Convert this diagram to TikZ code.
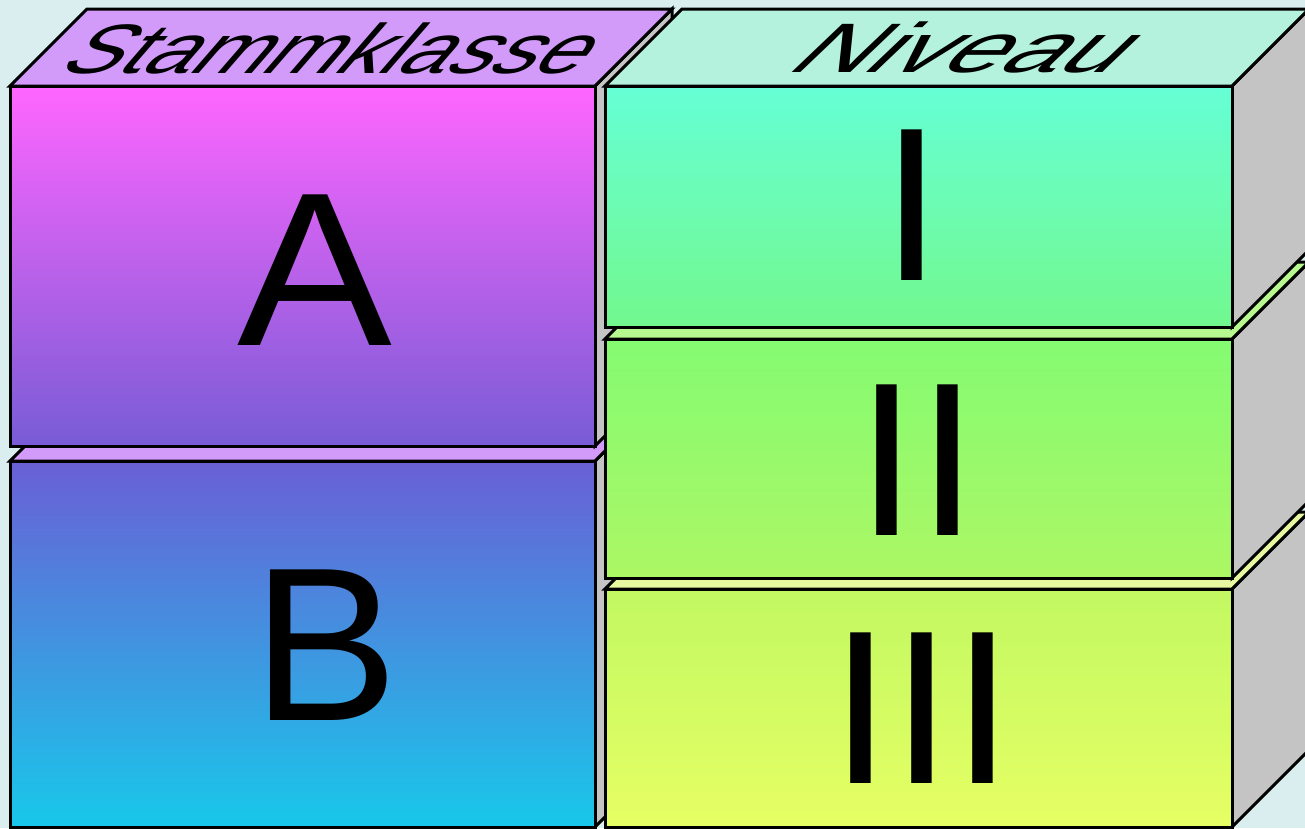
\documentclass[tikz,border=0pt]{standalone}
\usepackage{fontspec}
\setmainfont{Liberation Sans}
\newfontfamily\slantsans[FakeSlant=0.7]{Liberation Sans}
\usepackage{graphicx}
\definecolor{bgcyan}{HTML}{DAEEF0}
\definecolor{sidegray}{HTML}{C4C4C4}
\definecolor{topA}{HTML}{D29BFA}
\definecolor{topN}{HTML}{B4F2DE}
\definecolor{topII}{HTML}{B8F890}
\definecolor{topIII}{HTML}{E8F8A0}
\definecolor{aTop}{HTML}{FF66FF}
\definecolor{aBot}{HTML}{785CD6}
\definecolor{bTop}{HTML}{6A5FD6}
\definecolor{bBot}{HTML}{18C8EA}
\definecolor{iTop}{HTML}{66FFD6}
\definecolor{iBot}{HTML}{72F88E}
\definecolor{iiTop}{HTML}{84FB72}
\definecolor{iiBot}{HTML}{ACF764}
\definecolor{iiiTop}{HTML}{C2F862}
\definecolor{iiiBot}{HTML}{E6FF64}
% #1 x left, #2 x right, #3 y top, #4 y bottom, #5 top face colour, #6 front top, #7 front bottom
\newcommand\mycuboid[7]{%
  \draw[sideface] (#2,#3) -- (#2+77,#3-77) -- (#2+77,#4-77) -- (#2,#4) -- cycle;
  \draw[edge,fill=#5] (#1,#3) -- (#2,#3) -- (#2+77,#3-77) -- (#1+77,#3-77) -- cycle;
  \path[top color=#6,bottom color=#7] (#1,#3) rectangle (#2,#4);
  \draw[edge] (#1,#3) rectangle (#2,#4);
}
\begin{document}
\begin{tikzpicture}[x=1pt,y=-1pt,
  edge/.style={draw=black,line width=3pt,line join=miter},
  sideface/.style={edge,fill=sidegray},
  bigletter/.style={inner sep=0pt,anchor=base,font=\fontsize{219}{219}\selectfont},
  toplabel/.style={inner sep=0pt,anchor=base west,font=\fontsize{70}{70}\selectfont\slantsans}]
\useasboundingbox (0,0) rectangle (1305,828);
\fill[bgcyan] (0,0) rectangle (1305,828);
\clip (0,0) rectangle (1305,828);
% left column: Stammklasse
\mycuboid{10}{595}{461}{827}{topA}{bTop}{bBot}
\mycuboid{10}{595}{86}{446}{topA}{aTop}{aBot}
% right column: Niveau
\mycuboid{605}{1232}{589}{827}{topIII}{iiiTop}{iiiBot}
\mycuboid{605}{1232}{339}{578}{topII}{iiTop}{iiBot}
\mycuboid{605}{1232}{86}{327}{topN}{iTop}{iBot}
% labels
\node[toplabel] (stamm) at (55,73) {\scalebox{1.24}[1]{Stammklasse}};
\node[toplabel] (niveau) at (783,72) {\scalebox{1.5}[1]{Niveau}};
\node[bigletter] (A) at (315,345) {\scalebox{1.06}[1]{A}};
\node[bigletter] (B) at (326,720) {B};
\node[bigletter] (I) at (912,280) {I};
\node[bigletter] (II) at (917,535) {II};
\node[bigletter] (III) at (922,783) {III};
\end{tikzpicture}
\end{document}
